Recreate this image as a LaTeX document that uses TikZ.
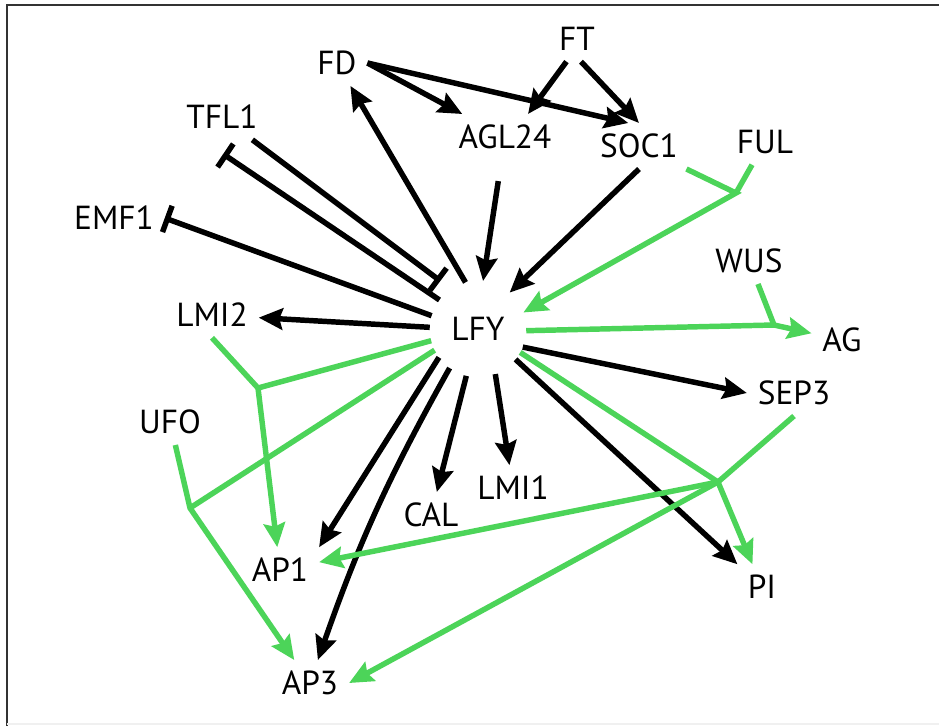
\documentclass[tikz,border=0pt]{standalone}
\usepackage{fontspec}
\setmainfont{PT Sans}
\usetikzlibrary{arrows.meta}
\definecolor{andgreen}{RGB}{76,212,89}

\begin{document}
\begin{tikzpicture}[
  x=0.75pt, y=-0.75pt,
  font=\fontsize{25}{30}\selectfont,
  >={Stealth[length=18pt, width=16pt, inset=2.5pt]},
  gene/.style={inner sep=8pt},
  hub/.style={circle, minimum size=72pt, inner sep=0pt},
  act/.style={->, line width=4.1pt},
  inh/.style={-{Bar[width=21pt]}, line width=4.1pt},
  link/.style={line width=4.1pt, andgreen},
  gact/.style={link, ->}
]
\useasboundingbox (0,0) rectangle (939,726);
\draw[line width=1.5pt, black!80] (7,726) -- (7,5) -- (939,5);
\draw[line width=1pt, black!6] (7,724) -- (939,724);

\node[hub] (lfy) at (478,329) {LFY};
\node[gene] (ft) at (577,39) {FT};
\node[gene] (fd) at (337,63) {FD};
\node[gene] (agl24) at (505,137) {AGL24};
\node[gene] (soc1) at (639,146) {SOC1};
\node[gene] (ful) at (765,142) {FUL};
\node[gene] (tfl1) at (222,117) {TFL1};
\node[gene] (emf1) at (114,218) {EMF1};
\node[gene] (lmi2) at (212,315) {LMI2};
\node[gene] (wus) at (749,261) {WUS};
\node[gene] (ag) at (842,340) {AG};
\node[gene] (sep3) at (794,393) {SEP3};
\node[gene] (ufo) at (170,422) {UFO};
\node[gene] (lmi1) at (513,488) {LMI1};
\node[gene] (cal) at (431,515) {CAL};
\node[gene] (ap1) at (280,570) {AP1};
\node[gene] (pi) at (762,587) {PI};
\node[gene] (ap3) at (310,683) {AP3};

% joint inputs
\coordinate (jlfy) at (736,193);
\coordinate (jag) at (774,325);
\coordinate (jap1) at (258,388);
\coordinate (jap3) at (190,508);
\coordinate (jpi) at (718,482);

% upstream of LFY
\draw[act] (ft.245) -- (agl24.45);
\draw[act] (ft.280) -- (soc1.north);
\draw[act] (fd.east) -- (agl24);
\draw[act] (fd.east) -- (soc1.115);
\draw[act, shorten <=16pt] (agl24) -- (lfy.84);
\draw[act] (soc1.south) -- (lfy.49.4);
\draw[link] (ful) -- (jlfy);
\draw[gact] (soc1) -- (jlfy) -- (lfy.20.4);
\draw[inh, shorten >=10pt] (tfl1) -- (lfy.124.5);

% LFY targets
\draw[act] (lfy.105.8) -- (fd);
\draw[inh, shorten >=19pt] (lfy.143) -- (tfl1.229);
\draw[inh] (lfy.164.6) -- (emf1.east);
\draw[act] (lfy.178) -- (lmi2);
\draw[act] (lfy.216) -- (ap1.north east);
\draw[act] (lfy.234) to[bend right=5] (ap3);
\draw[act] (lfy.256) -- (cal);
\draw[act] (lfy.291.3) -- (lmi1);
\draw[act] (lfy.321.5) -- (pi);
\draw[act] (lfy.338) -- (sep3.west);

% green joint edges
\draw[link] (wus) -- (jag);
\draw[gact] (lfy.-2.5) -- (jag) -- (ag);
\draw[link] (lfy.194.3) -- (jap1);
\draw[gact] (lmi2.south) -- (jap1) -- (ap1);
\draw[link] (lfy.206.1) -- (jap3);
\draw[gact] (ufo) -- (jap3) -- (ap3);
\draw[gact] (lfy.331.6) -- (jpi) -- (pi);
\draw[gact] (sep3.south) -- (jpi) -- (ap3.east);
\draw[gact] (jpi) -- (ap1);
\end{tikzpicture}
\end{document}
